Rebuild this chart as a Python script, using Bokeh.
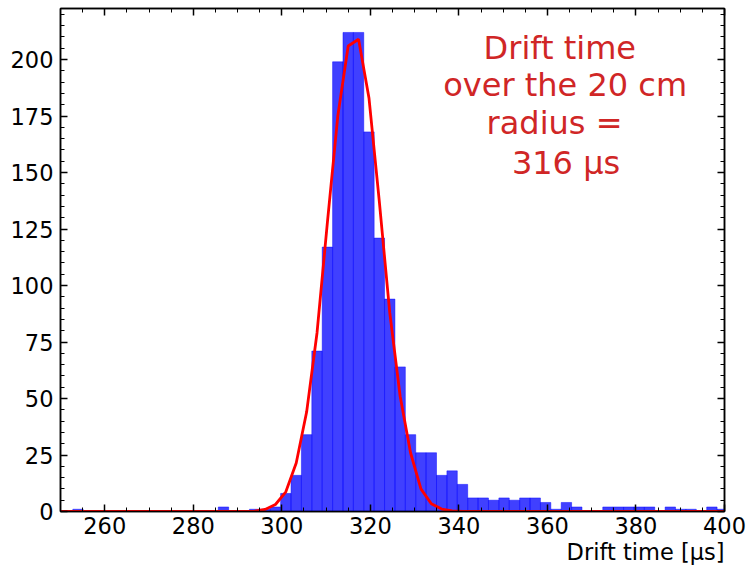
import numpy as np
from bokeh.plotting import figure
from bokeh.models import Range1d, SingleIntervalTicker, LinearAxis, Label, Title
from bokeh.embed import file_html
from bokeh.resources import INLINE

# ---------------- data ----------------
bin_start = 252.78
bin_width = 2.3475
counts = [1, 0, 0, 0, 0, 0, 0, 0, 0, 0, 0, 0, 0, 0, 2, 0,
          0, 1, 1, 2, 8, 16, 34, 71, 117, 199, 212, 212, 168, 121, 94, 64,
          34, 26, 26, 16, 18, 12, 6, 6, 5, 6, 5, 6, 6, 4, 1, 4,
          2, 0, 0, 2, 2, 2, 2, 2, 0, 2, 1, 1, 0, 2, 1, 0]
fit_vals = [0, 0, 0, 0, 0, 0, 0, 0, 0, 0, 0, 0, 0, 0, 0, 0,
            0, 0.2, 0.9, 3.1, 8.7, 21.5, 44, 79, 128, 175, 206, 209, 183, 137, 88, 51,
            26, 10, 3.4, 1.1, 0.3, 0, 0, 0, 0, 0, 0, 0, 0, 0, 0, 0,
            0, 0, 0, 0, 0, 0, 0, 0, 0, 0, 0, 0, 0, 0, 0, 0]
x_range = (250, 400)
y_range = (0, 222.6)
x_label = "Drift time [μs]"
note_lines = ["Drift time", "over the 20 cm", "radius =", "316 μs"]

edges = bin_start + bin_width * np.arange(len(counts) + 1)
centers = 0.5 * (edges[:-1] + edges[1:])
fit_x = [x_range[0]] + list(centers)
fit_y = [0] + fit_vals

FONT = "DejaVu Sans"
TICK_FS = "22.5px"

p = figure(width=748, height=568, output_backend="svg", toolbar_location=None,
           x_range=Range1d(*x_range), y_range=Range1d(*y_range),
           min_border_left=60, min_border_right=24, min_border_top=8, min_border_bottom=57)
p.background_fill_color = "white"
p.border_fill_color = "white"
p.outline_line_color = "black"
p.outline_line_width = 1.5
p.xgrid.visible = False
p.ygrid.visible = False

p.quad(left=edges[:-1], right=edges[1:], bottom=0, top=counts,
       fill_color="blue", fill_alpha=0.75, line_color="blue", line_alpha=0.45, line_width=1)
p.line(fit_x, fit_y, line_color="red", line_width=2.8)

def style_axis(ax, show_labels):
    ax.axis_line_color = "black"
    ax.axis_line_width = 1.5
    ax.major_tick_in = 7
    ax.major_tick_out = 0
    ax.minor_tick_in = 4
    ax.minor_tick_out = 0
    ax.major_tick_line_width = 1.5
    ax.minor_tick_line_width = 1
    ax.major_label_text_font = FONT
    ax.major_label_text_font_size = TICK_FS
    ax.major_label_text_color = "black"
    if not show_labels:
        ax.major_label_text_alpha = 0
        ax.major_label_text_font_size = "1px"

p.xaxis.ticker = SingleIntervalTicker(interval=20, num_minor_ticks=4)
p.yaxis.ticker = SingleIntervalTicker(interval=25, num_minor_ticks=5)
style_axis(p.xaxis[0], True)
style_axis(p.yaxis[0], True)
p.xaxis.major_label_standoff = 5
p.yaxis.major_label_standoff = 7

top_ax = LinearAxis(ticker=SingleIntervalTicker(interval=20, num_minor_ticks=4))
right_ax = LinearAxis(ticker=SingleIntervalTicker(interval=25, num_minor_ticks=5))
style_axis(top_ax, False)
style_axis(right_ax, False)
top_ax.major_label_standoff = 0
right_ax.major_label_standoff = 0
p.add_layout(top_ax, "above")
p.add_layout(right_ax, "right")

p.add_layout(Title(text=x_label, align="right", text_font=FONT, text_font_size=TICK_FS,
                   text_font_style="normal", text_color="black", standoff=0), "below")

# annotation text, line by line (data coordinates)
note_x = [362.8, 364.0, 361.6, 364.2]
note_y = [205.2, 188.7, 172.1, 154.4]
for t, xx, yy in zip(note_lines, note_x, note_y):
    p.add_layout(Label(x=xx, y=yy, text=t, text_align="center", text_baseline="alphabetic",
                       text_font=FONT, text_font_size="32px", text_color="#d02626"))

open("out.html", "w").write(file_html(p, INLINE))
